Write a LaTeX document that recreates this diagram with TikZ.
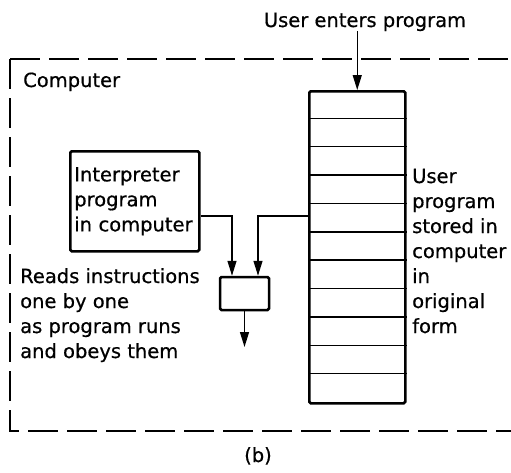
\documentclass[tikz,border=0pt]{standalone}
\usepackage{fontspec}
\setmainfont{DejaVu Sans}[FakeBold=0.6]
\usetikzlibrary{arrows.meta,calc}
\begin{document}
\begin{tikzpicture}[x=1pt,y=-1pt,
  lbl/.style={inner sep=0pt,font=\fontsize{19.5}{25}\selectfont,align=left},
  heavybox/.style={draw,line width=2.5pt,rounded corners=1.5pt,inner sep=0pt},
  wire/.style={line width=1.3pt},
  arr/.style={wire,-{Triangle[length=15pt,width=9pt]}},
  frame/.style={line width=1.2pt,dash pattern=on 30pt off 9pt}]
\useasboundingbox (0,0) rectangle (511,472);

% computer boundary, open on the right
\draw[frame] (10,59) -- (511,59);
\draw[frame] (10,59) -- (10,431) -- (511,431);

% labels (a multi-line node sits on the baseline of its last line)
\node[lbl,anchor=base west] (comp) at (23,87) {Computer};
\node[lbl,anchor=base] (enter) at (365,27) {User enters program};
\node[lbl,anchor=base west] (reads) at (20,358)
  {Reads instructions\\one by one\\as program runs\\and obeys them};
\node[lbl,anchor=base west] (desc) at (412,333)
  {User\\program\\stored in\\computer\\in\\original\\form};
\node[lbl,anchor=base] (cap) at (258,462) {(b)};

% stored user program: a column of locations
\node[heavybox,minimum width=96pt,minimum height=312pt,anchor=north west]
  (store) at (308,90) {};
\foreach \k in {1,...,10}
  \draw[line width=1.4pt] ($(store.north west)+(0,\k*28.36)$)
                       -- ($(store.north east)+(0,\k*28.36)$);

% interpreter
\node[heavybox,lbl,inner xsep=4pt,text width=121pt,minimum height=100pt,
      anchor=north west] (interp) at (69,150)
  {Interpreter\\program\\in computer};

% processing unit
\node[heavybox,minimum width=49pt,minimum height=33pt] (cpu) at (244.5,293.5) {};

% connectors
\coordinate (tap) at (0,216);
\coordinate (out) at (244.5,347);
\draw[arr] (enter.south -| store.north) -- (store.north);
\draw[arr] (interp.east |- tap) -| ([xshift=-12.5pt]cpu.north);
\draw[arr] (store.west |- tap) -| ([xshift=13.5pt]cpu.north);
\draw[arr] (cpu.south) -- (out);
\end{tikzpicture}
\end{document}
